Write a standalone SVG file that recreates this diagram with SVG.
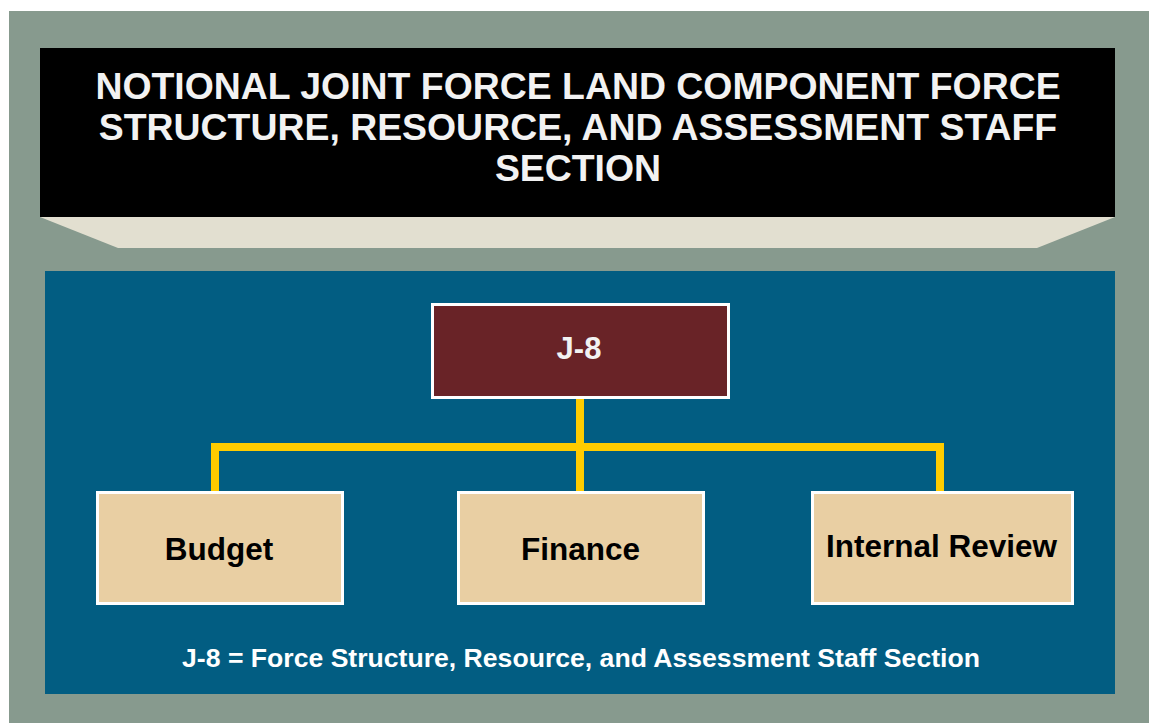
<svg xmlns="http://www.w3.org/2000/svg" width="1149" height="723" viewBox="0 0 1149 723">
<style>
.title{font-family:"Liberation Sans",Arial,sans-serif;font-weight:bold;font-size:37.4px;fill:#f2f2f2;text-anchor:middle}
.node{fill:#e9cfa3;stroke:#ffffff;stroke-width:3}
.lbl{font-family:"Liberation Sans",Arial,sans-serif;font-weight:bold;font-size:31.5px;fill:#000000;text-anchor:middle}
.head{fill:#692327;stroke:#ffffff;stroke-width:3}
.headlbl{font-family:"Liberation Sans",Arial,sans-serif;font-weight:bold;font-size:31px;fill:#f2f2f2;text-anchor:middle}
.conn{stroke:#ffcc00;stroke-width:8;fill:none;stroke-linecap:butt;stroke-linejoin:miter}
.note{font-family:"Liberation Sans",Arial,sans-serif;font-weight:bold;font-size:26.6px;fill:#ffffff;text-anchor:middle}
</style>
<rect x="0" y="0" width="1149" height="723" fill="#ffffff"/>
<rect x="9" y="11" width="1140" height="712" fill="#879a8e"/>
<g id="title">
<polygon points="40,217 1115,217 1037,248 118,248" fill="#e2dfd0"/>
<rect x="40" y="48" width="1075" height="169" fill="#000000"/>
<text class="title" x="578" y="99">NOTIONAL JOINT FORCE LAND COMPONENT FORCE</text>
<text class="title" x="578" y="140">STRUCTURE, RESOURCE, AND ASSESSMENT STAFF</text>
<text class="title" x="578" y="181">SECTION</text>
</g>
<rect x="45" y="271" width="1070" height="423" fill="#025d82"/>
<g id="connectors">
<path class="conn" d="M580,399 V491"/>
<path class="conn" d="M215,491 V447 H940 V491"/>
</g>
<g id="j8">
<rect class="head" x="432.5" y="304.5" width="296" height="93"/>
<text class="headlbl" x="579" y="359">J-8</text>
</g>
<g id="budget">
<rect class="node" x="97.5" y="492.5" width="245" height="111"/>
<text class="lbl" x="219" y="560">Budget</text>
</g>
<g id="finance">
<rect class="node" x="458.5" y="492.5" width="245" height="111"/>
<text class="lbl" x="580.5" y="560">Finance</text>
</g>
<g id="internal-review">
<rect class="node" x="812.5" y="492.5" width="260" height="111"/>
<text class="lbl" x="941.5" y="557">Internal Review</text>
</g>
<g id="legend">
<text class="note" x="581" y="667">J-8 = Force Structure, Resource, and Assessment Staff Section</text>
</g>
</svg>
